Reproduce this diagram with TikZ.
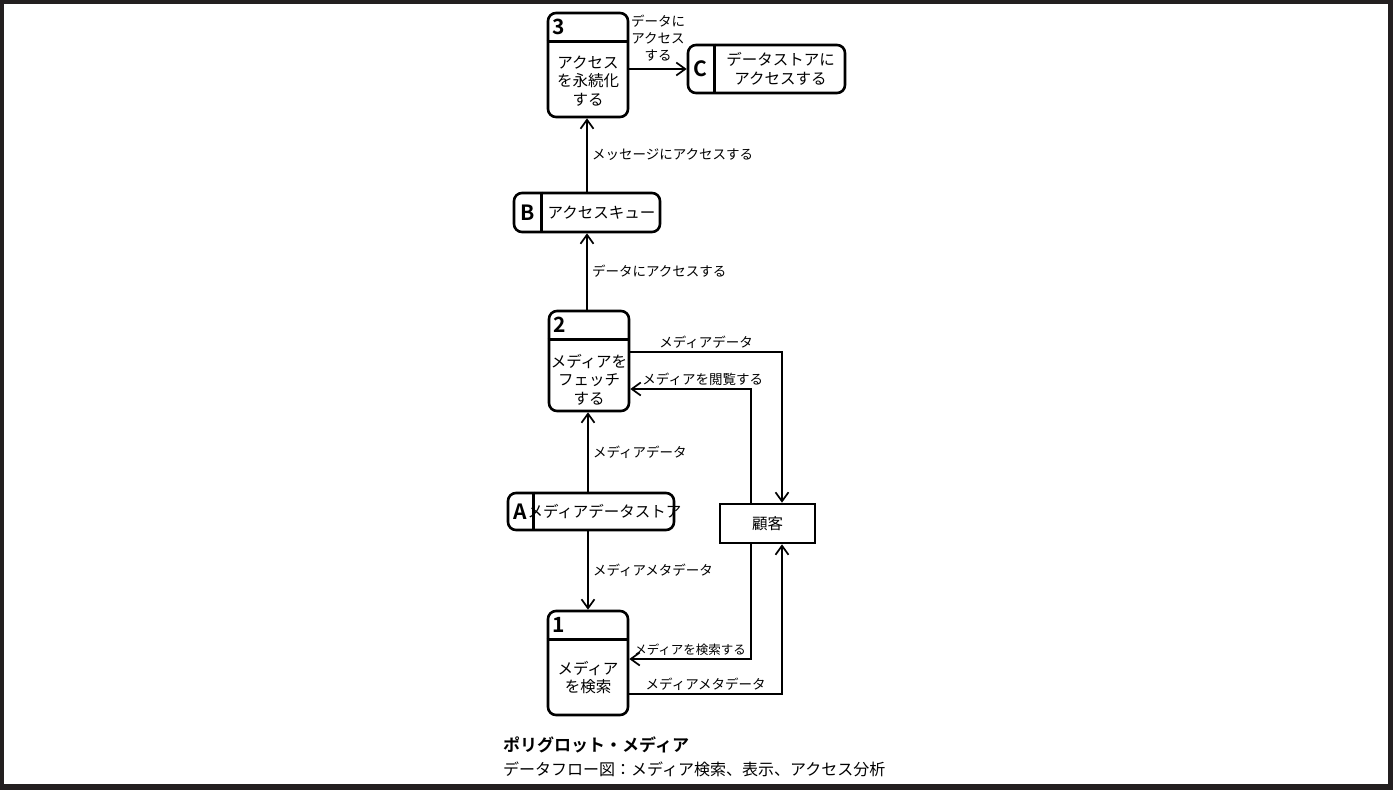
\documentclass[tikz,border=0pt]{standalone}
\usepackage{fontspec}
\newfontfamily\jp{Noto Sans CJK JP}[BoldFont={Noto Sans CJK JP Bold}]
\usetikzlibrary{arrows.meta}
\definecolor{framecol}{HTML}{231F20}

\tikzset{
  proc/.style={draw, line width=2.6pt, rounded corners=8pt, minimum width=80pt, minimum height=104pt, inner sep=0pt},
  store/.style={draw, line width=2.6pt, rounded corners=8pt, inner sep=0pt},
  ext/.style={draw, line width=2.6pt, minimum width=95pt, minimum height=39pt, inner sep=0pt, font=\jp\fontsize{15.5pt}{18pt}\selectfont},
  num/.style={font=\jp\bfseries\fontsize{21pt}{21pt}\selectfont, inner sep=0pt},
  boxtxt/.style={font=\jp\fontsize{15.5pt}{18.5pt}\selectfont, align=center, inner sep=0pt},
  lbl/.style={font=\jp\fontsize{13.5pt}{17pt}\selectfont, inner sep=2pt},
  flow/.style={line width=2.2pt, -{Straight Barb[length=9pt,width=13pt,line width=1.7pt]}},
}

\begin{document}
\begin{tikzpicture}[x=1pt,y=-1pt]
    % frame
    \fill[framecol] (0,0) rectangle (1393,790);
    \fill[white] (4,4) rectangle (1388,784);

    % processes
    \node[proc] (p3) at (588,65) {};
    \node[proc, minimum height=100pt] (p2) at (589,361) {};
    \node[proc] (p1) at (588,663) {};
    \foreach \p/\n in {p3/3, p2/2, p1/1}{
        \draw[line width=2.6pt] ([yshift=-30pt]\p.north west) -- ([yshift=-30pt]\p.north east);
        \node[num, anchor=west] (\p-id) at ([xshift=6pt,yshift=-15pt]\p.north west) {\n};
    }
    \node[boxtxt] (p3-txt) at (588,81) {アクセス\\を永続化\\する};
    \node[boxtxt] (p2-txt) at (589,379.5) {メディアを\\フェッチ\\する};
    \node[boxtxt] (p1-txt) at (588,677.5) {メディア\\を検索};

    % data stores
    \node[store, minimum width=157pt, minimum height=48pt] (dC) at (766.5,69) {};
    \node[store, minimum width=146pt, minimum height=39pt] (dB) at (587,212.5) {};
    \node[store, minimum width=166pt, minimum height=37pt] (dA) at (591,511.5) {};
    \foreach \s/\d/\h/\l in {dC/28/14/C, dB/29/14.5/B, dA/27/13.5/A}{
        \draw[line width=2.6pt] ([xshift=\d pt]\s.north west) -- ([xshift=\d pt]\s.south west);
        \node[num] (\s-id) at ([xshift=\h pt]\s.west) {\l};
    }
    \node[boxtxt] (dC-txt) at (780.5,69) {データストアに\\アクセスする};
    \node[boxtxt] (dB-txt) at (601.5,212.5) {アクセスキュー};
    \node[boxtxt] (dA-txt) at (604.5,511.5) {メディアデータストア};

    % external entity
    \node[ext] (cust) at (767.5,523.5) {顧客};

    % flows
    \draw[flow] (p3.east |- dC.west) -- node[lbl, above, yshift=5pt, align=center, font=\jp\fontsize{13.5pt}{17pt}\selectfont] {データに\\アクセス\\する} (dC.west);
    \draw[flow] (dB.north) -- node[lbl, right, xshift=2pt] {メッセージにアクセスする} (dB.north |- p3.south);
    \draw[flow] (dB.south |- p2.north) -- node[lbl, right, xshift=2pt] {データにアクセスする} (dB.south);
    \draw[flow] (p3.south |- dA.north) -- node[lbl, right, xshift=2pt] {メディアデータ} (p3.south |- p2.south);
    \draw[flow] (p1.north |- dA.south) -- node[lbl, right, xshift=2pt] {メディアメタデータ} (p1.north);
    \draw[flow] ([yshift=9pt]p2.east) -| node[lbl, pos=0.25, above] {メディアデータ} ([xshift=14.5pt]cust.north);
    \draw[flow] ([xshift=-16.5pt]cust.north) |- node[lbl, pos=0.7, above] {メディアを閲覧する} ([yshift=-28pt]p2.east);
    \draw[flow] ([xshift=-16.5pt]cust.south) |- node[lbl, pos=0.75, above, font=\jp\fontsize{12.5pt}{15pt}\selectfont] {メディアを検索する} ([yshift=4pt]p1.east);
    \draw[flow] ([yshift=-31pt]p1.east) -| node[lbl, pos=0.25, above] {メディアメタデータ} ([xshift=14.5pt]cust.south);

    % caption
    \node[font=\jp\bfseries\fontsize{17pt}{17pt}\selectfont, anchor=west, inner sep=0pt] (title) at (503,745) {ポリグロット・メディア};
    \node[font=\jp\fontsize{16pt}{16pt}\selectfont, anchor=west, inner sep=0pt] (subtitle) at (503,769) {データフロー図：メディア検索、表示、アクセス分析};
\end{tikzpicture}
\end{document}
